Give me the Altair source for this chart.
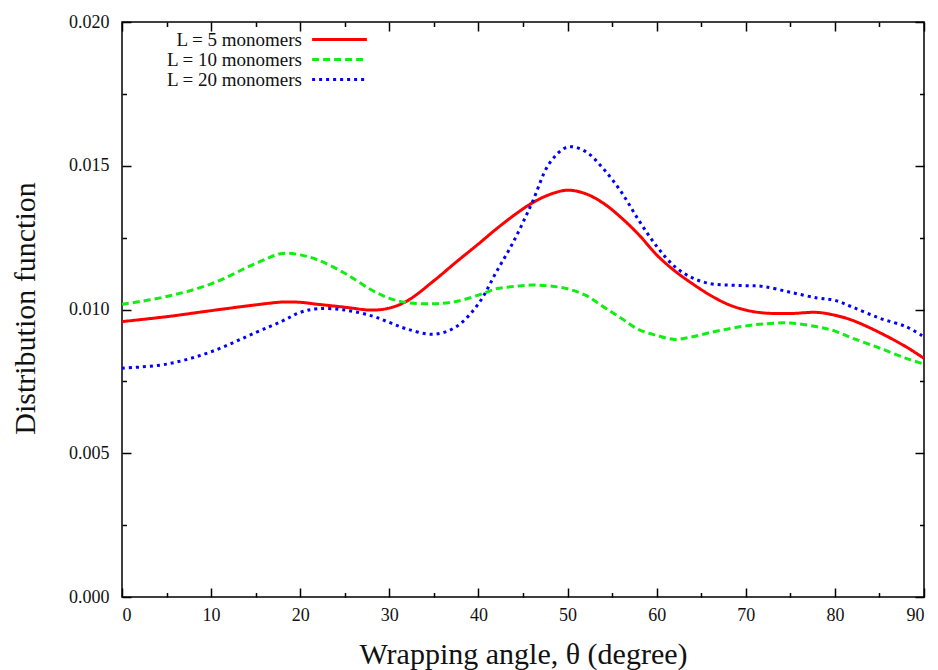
import altair as alt
import pandas as pd

# ---- data ----
angle = [0, 5, 10, 15, 18, 20, 22, 25, 28, 30, 32, 35, 37.5, 40, 42, 44, 46, 48, 50,
         52, 54, 56, 58, 60, 62, 64, 66, 68, 70, 72, 75, 78, 80, 82, 85, 88, 90]

dist_L5 = [0.00958, 0.00975, 0.00996, 0.01016, 0.01026, 0.01025, 0.01018, 0.01008, 0.00998,
           0.01005, 0.0103, 0.0110, 0.01165, 0.01228, 0.0128, 0.01328, 0.0137, 0.0140, 0.01415,
           0.01403, 0.0137, 0.0132, 0.0126, 0.0119, 0.01135, 0.0109, 0.0105, 0.01018, 0.00998,
           0.00988, 0.00986, 0.0099, 0.0098, 0.00962, 0.0092, 0.0087, 0.0083]

dist_L10 = [0.01018, 0.01045, 0.01089, 0.0116, 0.01195, 0.0119, 0.01172, 0.01126, 0.01068,
            0.01039, 0.01024, 0.0102, 0.01028, 0.0105, 0.01072, 0.0108, 0.01085, 0.01082, 0.01072,
            0.0105, 0.0101, 0.0097, 0.0093, 0.0091, 0.00896, 0.00905, 0.0092, 0.00932, 0.00943,
            0.0095, 0.00953, 0.0094, 0.00925, 0.0090, 0.00866, 0.0083, 0.0081]

dist_L20 = [0.00796, 0.0081, 0.00853, 0.0092, 0.0096, 0.0099, 0.01003, 0.00998, 0.00978,
            0.00955, 0.00932, 0.00914, 0.0094, 0.0102, 0.0113, 0.0124, 0.0137, 0.0151, 0.01565,
            0.0155, 0.0149, 0.0141, 0.0131, 0.0122, 0.0115, 0.0111, 0.0109, 0.01085, 0.01083,
            0.0108, 0.0106, 0.0104, 0.01032, 0.01008, 0.0097, 0.0094, 0.00905]

series_names = ["L = 5 monomers", "L = 10 monomers", "L = 20 monomers"]
series_colors = ["#ff0000", "#11ee11", "#0000ff"]
series_dashes = [[1, 0], [7, 4], [3, 4]]

x_major = [0, 10, 20, 30, 40, 50, 60, 70, 80, 90]
x_minor = [5, 15, 25, 35, 45, 55, 65, 75, 85]
y_major = [0.0, 0.005, 0.010, 0.015, 0.020]
y_minor = [0.0025, 0.0075, 0.0125, 0.0175]

rows = []
for name, vals in zip(series_names, [dist_L5, dist_L10, dist_L20]):
    for a, v in zip(angle, vals):
        rows.append({"angle": a, "value": v, "series": name})
df = pd.DataFrame(rows)

FONT = "Liberation Serif"
x_scale = alt.Scale(domain=[0, 90], nice=False, zero=False)
y_scale = alt.Scale(domain=[0, 0.02], nice=False)

legend = alt.Legend(
    orient="none", legendX=208, legendY=8, title=None,
    symbolType="M-10,0H10", symbolSize=30, symbolStrokeWidth=3,
    labelFont=FONT, labelFontSize=19, labelColor="#111",
    labelAlign="right", labelOffset={"expr": "-47"}, rowPadding=0, padding=0,
)

lines = alt.Chart(df).mark_line(interpolate="catmull-rom", strokeWidth=3, clip=True).encode(
    x=alt.X("angle:Q", scale=x_scale,
            axis=alt.Axis(values=x_major, title="Wrapping angle, θ (degree)", ticks=False,
                          domain=False, grid=False, labelPadding=9, labelFontSize=18,
                          titleFontSize=30, titleY=66, titleBaseline="alphabetic")),
    y=alt.Y("value:Q", scale=y_scale,
            axis=alt.Axis(values=y_major, format=".3f", title="Distribution function",
                          ticks=False, domain=False, grid=False, labelPadding=13,
                          labelFontSize=18, titleFontSize=30, titleX=-88, titleY=286,
                          titleAngle=270, titleBaseline="alphabetic")),
    color=alt.Color("series:N", scale=alt.Scale(domain=series_names, range=series_colors),
                    legend=legend),
    strokeDash=alt.StrokeDash("series:N",
                              scale=alt.Scale(domain=series_names, range=series_dashes),
                              legend=legend),
)


def tick_layer(xorient, yorient, xvals, yvals, size):
    return alt.Chart(df).mark_point(opacity=0).encode(
        x=alt.X("angle:Q", scale=x_scale,
                axis=alt.Axis(orient=xorient, values=xvals, labels=False, domain=False,
                              grid=False, tickSize=size, offset=-size, title=None,
                              tickColor="black", tickWidth=1.5)),
        y=alt.Y("value:Q", scale=y_scale,
                axis=alt.Axis(orient=yorient, values=yvals, labels=False, domain=False,
                              grid=False, tickSize=size, offset=-size, title=None,
                              tickColor="black", tickWidth=1.5)),
    )


chart = alt.layer(
    lines,
    tick_layer("bottom", "left", x_major, y_major, 9),
    tick_layer("bottom", "left", x_minor, y_minor, 4.5),
    tick_layer("top", "right", x_major, y_major, 9),
    tick_layer("top", "right", x_minor, y_minor, 4.5),
).resolve_axis(
    x="independent", y="independent"
).properties(
    width=802, height=575,
    autosize=alt.AutoSizeParams(type="none"),
    padding={"left": 114, "top": 14, "right": 6, "bottom": 73},
    background="white",
).configure_view(
    stroke="black", strokeWidth=1.5
).configure_axis(
    labelFont=FONT, titleFont=FONT, labelColor="#111", titleColor="#111",
    titleFontWeight="normal",
)

chart.save("out.html", embed_options={"renderer": "svg", "actions": False})
